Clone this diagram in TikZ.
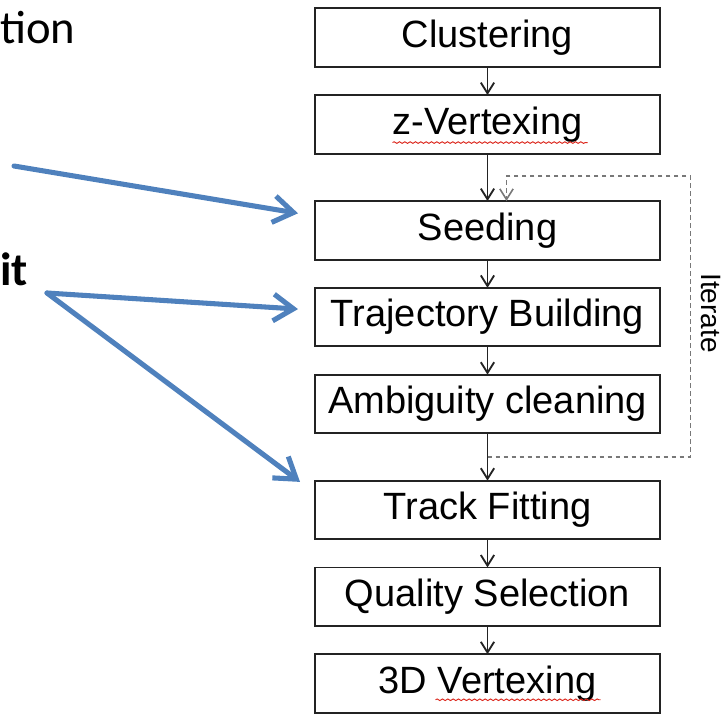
\documentclass[tikz,border=0pt]{standalone}
\usepackage{fontspec}
\setmainfont{Liberation Sans}
\newfontfamily\califont{Carlito}
\usepackage{tikz}
\usetikzlibrary{arrows.meta,positioning,calc,decorations.pathmorphing}
\definecolor{flowgray}{RGB}{35,35,35}
\definecolor{loopgray}{RGB}{120,120,120}
\definecolor{pointblue}{RGB}{79,129,189}
\definecolor{spellred}{RGB}{220,40,30}

\begin{document}
\begin{tikzpicture}[x=0.75pt,y=-0.75pt,
    stage/.style={draw=flowgray,line width=1.4pt,fill=white,outer sep=0pt,
                  minimum width=258.75pt,minimum height=43.9pt,inner sep=0pt,
                  font=\fontsize{28.5}{30}\selectfont},
    flow/.style={-{Straight Barb[length=8pt,width=10pt]},line width=1.4pt,flowgray},
    iterloop/.style={-{Straight Barb[length=8pt,width=10pt]},line width=1.2pt,loopgray,
                  dash pattern=on 3.5pt off 2.5pt},
    point/.style={-{Straight Barb[length=15pt,width=20pt]},line width=3.8pt,
                  pointblue,line cap=round},
    side/.style={anchor=base west,inner sep=0pt,font=\califont\fontsize{35}{37}\selectfont},
    squiggle/.style={spellred,line width=0.7pt,
                  decorate,decoration={snake,amplitude=0.6pt,segment length=4pt}}
  ]
    \useasboundingbox (0,0) rectangle (726,714);

    \node[stage] (clus) at (487.5,37.5) {Clustering};
    \node[stage,below=21.2pt of clus] (zvtx) {z-Vertexing};
    \node[stage,below=35.6pt of zvtx] (seed) {Seeding};
    \node[stage,below=21.2pt of seed] (traj) {Trajectory Building};
    \node[stage,below=21.2pt of traj] (ambig) {Ambiguity cleaning};
    \node[stage,below=35.6pt of ambig] (fit) {Track Fitting};
    \node[stage,below=21.2pt of fit] (qual) {Quality Selection};
    \node[stage,below=21.2pt of qual] (vtx) {3D Vertexing};

    \draw[flow] (clus) -- (zvtx);
    \draw[flow] (zvtx) -- (seed);
    \draw[flow] (seed) -- (traj);
    \draw[flow] (traj) -- (ambig);
    \draw[flow] (ambig) -- (fit);
    \draw[flow] (fit) -- (qual);
    \draw[flow] (qual) -- (vtx);

    \coordinate (lp) at ($(ambig.south)!0.5!(fit.north)$);
    \draw[iterloop] (lp) -- ++(203,0) |- ($(seed.north)+(19,-25)$) -- ($(seed.north)+(19,0)$);
    \node[rotate=-90,font=\fontsize{21}{23}\selectfont] (iter) at (711,313) {Iterate};

    \draw[squiggle] ($(zvtx.south)+(-95,-11)$) -- ($(zvtx.south)+(100,-11)$);
    \draw[squiggle] ($(vtx.south)+(-52,-13)$) -- ($(vtx.south)+(113,-13)$);

    \node[side] (tion) at (0,43) {tion};
    \node[side,font=\califont\bfseries\fontsize{35}{37}\selectfont] (it) at (0,285) {it};

    \coordinate (src1) at (14,166);
    \coordinate (src2) at (47,293);
    \coordinate (tip1) at ($(seed.west)+(-17,-17)$);
    \coordinate (tip2) at ($(traj.west)+(-17,-8)$);
    \coordinate (tip3) at ($(fit.west)+(-15,-28)$);
    \draw[point] (src1) -- (tip1);
    \draw[point] (src2) -- (tip2);
    \draw[point] (src2) -- (tip3);
  \end{tikzpicture}
\end{document}
